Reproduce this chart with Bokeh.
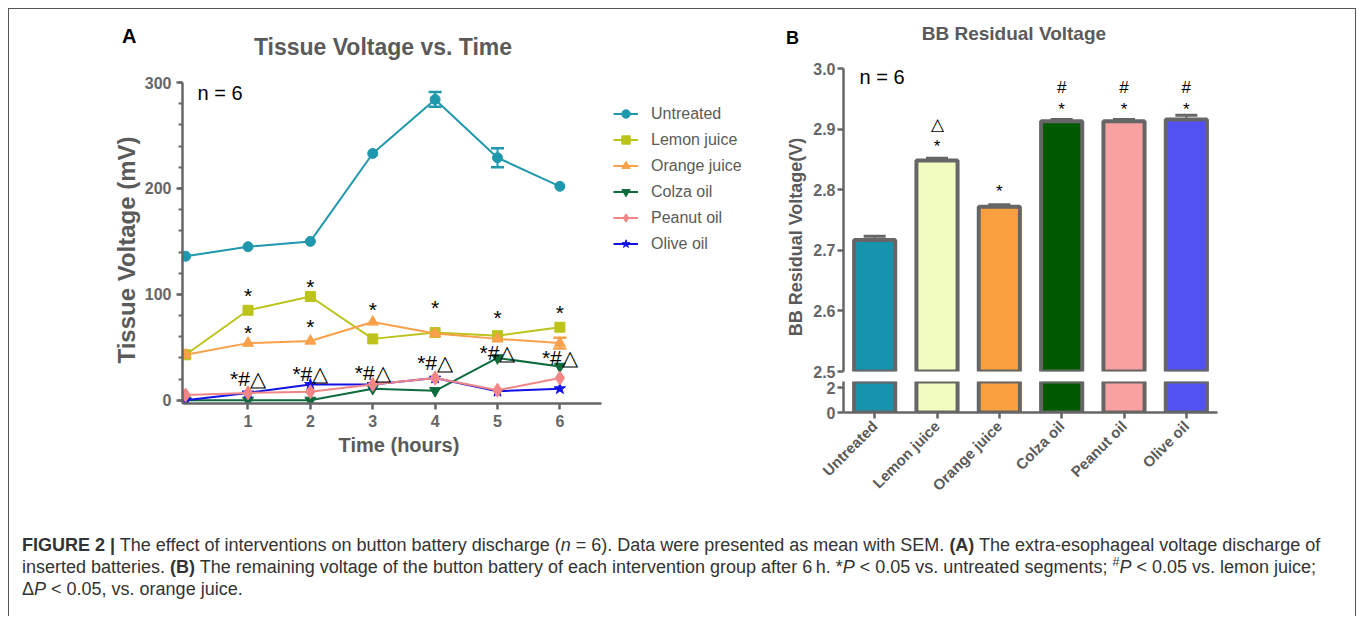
import math
from bokeh.plotting import figure
from bokeh.models import (Range1d, FactorRange, Label, Legend, LegendItem, Whisker,
                          TeeHead, ColumnDataSource, FixedTicker, SingleIntervalTicker, Div,
                          PrintfTickFormatter)
from bokeh.layouts import row, column
from bokeh.core.properties import value
from bokeh.embed import file_html
from bokeh.resources import INLINE

# ---------------- data: panel A ----------------
hours = [0, 1, 2, 3, 4, 5, 6]
untreated = [136, 145, 150, 233, 284, 229, 202]
untreated_sem = [0, 0, 0, 0, 7, 9, 0]
lemon = [43, 85, 98, 58, 64, 61, 69]
lemon_sem = [0, 0, 0, 0, 0, 0, 0]
orange = [43, 54, 56, 74, 63, 58, 54]
orange_sem = [0, 0, 0, 0, 0, 0, 5]
colza = [0, 0, 0, 11, 9, 40, 32]
colza_sem = [0, 0, 0, 0, 0, 0, 0]
peanut = [5, 7, 8, 15, 21, 9.5, 21]
peanut_sem = [0, 0, 0, 0, 0, 0, 0]
olive = [0, 7, 15, 15, 21, 8.5, 11]
olive_sem = [0, 0, 0, 0, 0, 0, 0]

# significance marks, panel A
sig_x = [1, 2, 3, 4, 5, 6, 1, 2, 1, 2, 3, 4, 5, 6]
sig_y = [99, 107.5, 85.5, 87.5, 78, 82.5, 64, 69.5, 21, 25.5, 26.5, 36, 45.5, 40.5]
sig_text = ["*", "*", "*", "*", "*", "*", "*", "*",
            "*#\u25b3", "*#\u25b3", "*#\u25b3", "*#\u25b3", "*#\u25b3", "*#\u25b3"]

# ---------------- data: panel B ----------------
groups = ["Untreated", "Lemon juice", "Orange juice", "Colza oil", "Peanut oil", "Olive oil"]
bb_voltage = [2.717, 2.848, 2.772, 2.913, 2.913, 2.916]
bb_sem = [0.006, 0.004, 0.003, 0.003, 0.003, 0.007]
bar_colors = ["#1693ad", "#f3fcc0", "#fba040", "#005a00", "#f9a0a0", "#5252f2"]

sigB_x = ["Lemon juice", "Lemon juice", "Orange juice", "Colza oil", "Colza oil",
          "Peanut oil", "Peanut oil", "Olive oil", "Olive oil"]
sigB_y = [2.872, 2.9076, 2.7977, 2.9325, 2.969, 2.9325, 2.969, 2.9325, 2.969]
sigB_text = ["*", "\u25b3", "*", "*", "#", "*", "#", "*", "#"]

FONT = "Liberation Sans"
AX = "#666666"
TXT = "#5a5a5a"


def style_axis(ax, size="16px"):
    ax.axis_line_width = 2.5
    ax.axis_line_color = AX
    ax.major_tick_line_color = AX
    ax.major_tick_line_width = 2.5
    ax.major_tick_out = 6
    ax.major_tick_in = 0
    ax.minor_tick_line_color = AX
    ax.minor_tick_line_width = 2
    ax.minor_tick_out = 4
    ax.minor_tick_in = 0
    ax.major_label_text_font = FONT
    ax.major_label_text_font_style = "bold"
    ax.major_label_text_font_size = size
    ax.major_label_text_color = AX


def span(text, cx, cy, size, color, bold=True, rotate=False):
    tr = "translate(-50%,-50%)" + (" rotate(-90deg)" if rotate else "")
    weight = "bold" if bold else "normal"
    return (f'<span style="position:absolute;left:{cx}px;top:{cy}px;transform:{tr};'
            f'white-space:nowrap;font-family:\'Liberation Sans\',Arial,sans-serif;'
            f'font-size:{size}px;font-weight:{weight};line-height:1;color:{color}">{text}</span>')


def box(spans, w, h):
    return Div(text=f'<div style="position:relative;width:{w}px;height:{h}px">{"".join(spans)}</div>',
               width=w, height=h, margin=0)


# ---------------- panel A ----------------
# frame: 62.37 px per hour, 1.0594 px per mV; x axis line limited to 0..6.66 h
pA = figure(width=630, height=373, x_range=Range1d(-0.05, 9.313), y_range=Range1d(-3, 300),
            output_backend="svg", toolbar_location=None,
            min_border_left=41, min_border_right=5, min_border_top=20, min_border_bottom=32)
pA.outline_line_color = None
pA.grid.visible = False
pA.xaxis.ticker = FixedTicker(ticks=[1, 2, 3, 4, 5, 6])
pA.xaxis.bounds = (-0.05, 6.66)
pA.yaxis.ticker = SingleIntervalTicker(interval=100, num_minor_ticks=5)
style_axis(pA.xaxis[0])
style_axis(pA.yaxis[0])
pA.xaxis.minor_tick_line_color = None

series = {
    "Untreated": (untreated, untreated_sem, "#1f98ae", "circle", 10),
    "Lemon juice": (lemon, lemon_sem, "#bcc41c", "square", 10),
    "Orange juice": (orange, orange_sem, "#f9a04a", "triangle", 11),
    "Colza oil": (colza, colza_sem, "#0e6b3c", "inverted_triangle", 11),
    "Peanut oil": (peanut, peanut_sem, "#f28686", "diamond", 14),
    "Olive oil": (olive, olive_sem, "#1212e6", "star", 12),
}
draw_order = ["Untreated", "Lemon juice", "Orange juice", "Colza oil", "Olive oil", "Peanut oil"]
legend_order = ["Untreated", "Lemon juice", "Orange juice", "Colza oil", "Peanut oil", "Olive oil"]
rends = {}
for name in draw_order:
    vals, sem, col, mk, sz = series[name]
    src = ColumnDataSource(dict(x=hours, y=vals))
    ln = pA.line("x", "y", source=src, line_color=col, line_width=2)
    sc = pA.scatter("x", "y", source=src, marker=mk, size=sz, fill_color=col, line_color=col)
    idx = [i for i, e in enumerate(sem) if e > 0]
    if idx:
        esrc = ColumnDataSource(dict(x=[hours[i] for i in idx],
                                     lo=[vals[i] - sem[i] for i in idx],
                                     hi=[vals[i] + sem[i] for i in idx]))
        pA.add_layout(Whisker(base="x", lower="lo", upper="hi", source=esrc, line_color=col,
                              line_width=2,
                              upper_head=TeeHead(size=13, line_color=col, line_width=2.5),
                              lower_head=TeeHead(size=13, line_color=col, line_width=2.5)))
    rends[name] = [ln, sc]

legend = Legend(items=[LegendItem(label=n, renderers=rends[n]) for n in legend_order],
                location=(431, 149), margin=0, padding=5, spacing=5,
                label_height=21, glyph_height=21, glyph_width=25, label_standoff=13,
                label_text_font=FONT, label_text_font_size="16px", label_text_color=TXT,
                border_line_color=None, background_fill_alpha=0)
pA.add_layout(legend)

pA.text(x=sig_x, y=sig_y, text=sig_text, text_font=value(FONT), text_font_size="21px",
        text_align="center", text_baseline="middle", text_color="black")
pA.add_layout(Label(x=0.19, y=289.8, text="n = 6", text_font=FONT, text_font_size="20px",
                    text_color="black", text_align="left", text_baseline="middle"))

headA = box([span("A", 120.2, 26.5, 20, "#000000"),
             span("Tissue Voltage vs. Time", 374, 37.7, 23, TXT)], 762, 53)
ylabA = box([span("Tissue Voltage (mV)", 118, 188, 24, TXT, rotate=True)], 132, 373)
footA = box([span("Time (hours)", 390, 10, 20, TXT)], 762, 35)
colA = column(headA, row(ylabA, pA), footA)

# ---------------- panel B ----------------
xr = FactorRange(*groups)
srcB = ColumnDataSource(dict(g=groups, v=bb_voltage, c=bar_colors,
                             up=[v + e for v, e in zip(bb_voltage, bb_sem)]))

pBt = figure(width=548, height=324, x_range=xr, y_range=Range1d(2.5, 3.0),
             output_backend="svg", toolbar_location=None, x_axis_location=None,
             min_border_left=36, min_border_right=138, min_border_top=13, min_border_bottom=8)
pBb = figure(width=548, height=137, x_range=xr, y_range=Range1d(0, 2.5),
             output_backend="svg", toolbar_location=None,
             min_border_left=36, min_border_right=138, min_border_top=2, min_border_bottom=104)
for p in (pBt, pBb):
    p.outline_line_color = None
    p.grid.visible = False
    style_axis(p.yaxis[0])
    p.yaxis.minor_tick_line_color = None
    p.yaxis.major_label_standoff = 2
    p.vbar(x="g", top="v", bottom=0, width=0.66, source=srcB, fill_color="c",
           line_color=AX, line_width=4)

pBt.yaxis.ticker = FixedTicker(ticks=[2.5, 2.6, 2.7, 2.8, 2.9, 3.0])
pBt.yaxis.formatter = PrintfTickFormatter(format="%.1f")
pBb.yaxis.ticker = FixedTicker(ticks=[0, 2])
style_axis(pBb.xaxis[0], size="15px")
pBb.xaxis.major_label_text_color = TXT
pBb.xaxis.major_label_orientation = math.pi / 4

pBt.add_layout(Whisker(base="g", lower="v", upper="up", source=srcB, line_color=AX, line_width=2,
                       upper_head=TeeHead(size=22, line_color=AX, line_width=3), lower_head=None))
pBt.text(x=sigB_x, y=sigB_y, text=sigB_text, text_font=value(FONT), text_font_size="17px",
         text_align="center", text_baseline="middle", text_color="black")
pBt.add_layout(Label(x=0.257, y=2.9857, text="n = 6", text_font=FONT, text_font_size="20px",
                     text_color="black", text_align="left", text_baseline="middle"))

headB = box([span("B", 21.4, 29.3, 18, "#000000"),
             span("BB Residual Voltage", 242.9, 23.5, 19, TXT)], 584, 46)
ylabB = box([span("BB Residual Voltage(V)", 25, 181.5, 18, TXT, rotate=True)], 36, 461)
colB = column(headB, row(ylabB, column(pBt, pBb)))

# ---------------- caption ----------------
cap_html = (
    '<b>FIGURE 2 |</b> The effect of interventions on button battery discharge (<i>n</i> = 6). '
    'Data were presented as mean with SEM. <b>(A)</b> The extra-esophageal voltage discharge of<br>'
    'inserted batteries. <b>(B)</b> The remaining voltage of the button battery of each intervention '
    'group after 6&#8239;h. *<i>P</i> &lt; 0.05 vs. untreated segments; '
    '<sup style="line-height:0;font-size:0.7em">#</sup><i>P</i> &lt; 0.05 vs. lemon juice;<br>'
    '&Delta;<i>P</i> &lt; 0.05, vs. orange juice.'
)
cap = Div(text=cap_html, width=1320, height=100, margin=0,
          styles={"font-family": "'Liberation Sans', Arial, sans-serif", "font-size": "18px",
                  "line-height": "22px", "color": "#333333", "white-space": "nowrap",
                  "padding-left": "13px", "padding-top": "18px"})

layout = column(row(colA, colB), cap, margin=(8, 0, 0, 8),
                styles={"border-top": "1px solid #555", "border-left": "1px solid #555",
                        "border-right": "1px solid #555"})

open("out.html", "w").write(file_html(layout, INLINE))
